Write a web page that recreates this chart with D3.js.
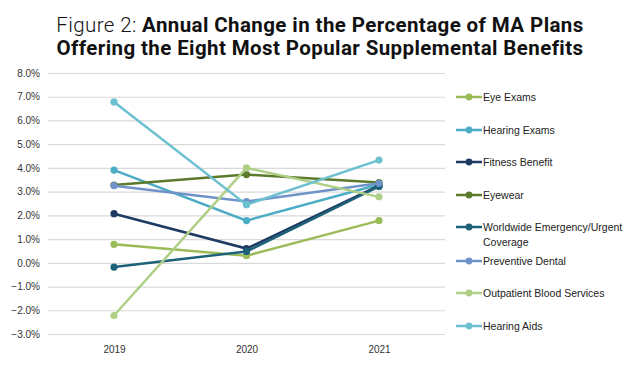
<!DOCTYPE html>
<html><head><meta charset="utf-8">
<script src="https://cdn.jsdelivr.net/npm/d3@7"></script>
<style>body{margin:0;background:#fff}svg{display:block}</style>
</head><body>
<svg id="c" width="640" height="366"></svg>
<script>
const years = ["2019","2020","2021"];
const seriesNames = ["Eye Exams","Hearing Exams","Fitness Benefit","Eyewear","Worldwide Emergency/Urgent Coverage","Preventive Dental","Outpatient Blood Services","Hearing Aids"];
const eyeExams = [0.78, 0.30, 1.78];
const hearingExams = [3.91, 1.78, 3.30];
const fitnessBenefit = [2.07, 0.60, 3.25];
const eyewear = [3.28, 3.72, 3.38];
const worldwide = [-0.18, 0.48, 3.22];
const preventiveDental = [3.25, 2.58, 3.35];
const outpatientBlood = [-2.22, 4.00, 2.78];
const hearingAids = [6.78, 2.45, 4.33];
const yTicks = [-3,-2,-1,0,1,2,3,4,5,6,7,8];
const colors = ["#9bbb59","#4bacc6","#1f3a63","#5b7a2b","#1d6178","#6f93c9","#b0cf86","#6cc0d0"];
const values = [eyeExams, hearingExams, fitnessBenefit, eyewear, worldwide, preventiveDental, outpatientBlood, hearingAids];

const svg = d3.select("#c");
const x = d3.scalePoint().domain(years).range([114, 379]);
const y = d3.scaleLinear().domain([-3, 8]).range([334, 73]);

// title
const tf = "Roboto, 'Liberation Sans', Arial, sans-serif";
const t = svg.append("text").attr("x", 320).attr("y", 32).attr("text-anchor","middle")
  .style("font-family",tf).style("font-size","20.5px").style("letter-spacing","0.4px").attr("fill","#111");
t.append("tspan").attr("font-weight","300").text("Figure 2: ");
t.append("tspan").attr("font-weight","700").text("Annual Change in the Percentage of MA Plans");
svg.append("text").attr("x", 320).attr("y", 55).attr("text-anchor","middle")
  .style("font-family",tf).style("font-size","20.5px").style("letter-spacing","0.4px").attr("font-weight","700").attr("fill","#111")
  .text("Offering the Eight Most Popular Supplemental Benefits");

// grid
const yAxis = d3.axisLeft(y).tickValues(yTicks).tickSize(-397).tickFormat(d => d3.format(".1f")(d) + "%");
const ga = svg.append("g").attr("transform","translate(48,0)").call(yAxis);
ga.select(".domain").remove();
ga.selectAll(".tick line").attr("stroke","#d9d9d9").attr("stroke-width",1.2);
ga.selectAll(".tick text").attr("x",-8).attr("fill","#333")
  .style("font-family","'Liberation Sans', Arial, sans-serif").style("font-size","10px");

const xAxis = d3.axisBottom(x).tickSize(0);
const gx = svg.append("g").attr("transform","translate(0,334)").call(xAxis);
gx.select(".domain").remove();
gx.selectAll(".tick text").attr("dy","1.6em").attr("fill","#333")
  .style("font-family","'Liberation Sans', Arial, sans-serif").style("font-size","10px");

// lines
const line = d3.line().x((d,i) => x(years[i])).y(d => y(d));
values.forEach((vals, s) => {
  const g = svg.append("g");
  g.append("path").attr("d", line(vals)).attr("fill","none").attr("stroke", colors[s]).attr("stroke-width",2.5);
  g.selectAll("circle").data(vals).join("circle")
    .attr("cx",(d,i)=>x(years[i])).attr("cy",d=>y(d)).attr("r",3.6).attr("fill",colors[s]);
});

// legend
const legY = [97,130,162,195,227,261,293,326];
seriesNames.forEach((name, s) => {
  const g = svg.append("g").attr("transform", `translate(456,${legY[s]})`);
  g.append("line").attr("x1",0).attr("x2",26).attr("stroke",colors[s]).attr("stroke-width",2.5);
  g.append("circle").attr("cx",13).attr("r",3.4).attr("fill",colors[s]);
  const tx = g.append("text").attr("x",27).attr("y",4).attr("fill","#222")
    .style("font-family","'Liberation Sans', Arial, sans-serif").style("font-size","10.5px");
  if (name.startsWith("Worldwide")) {
    tx.append("tspan").attr("x",27).text("Worldwide Emergency/Urgent");
    tx.append("tspan").attr("x",27).attr("dy",15).text("Coverage");
  } else tx.text(name);
});
</script>
</body></html>
